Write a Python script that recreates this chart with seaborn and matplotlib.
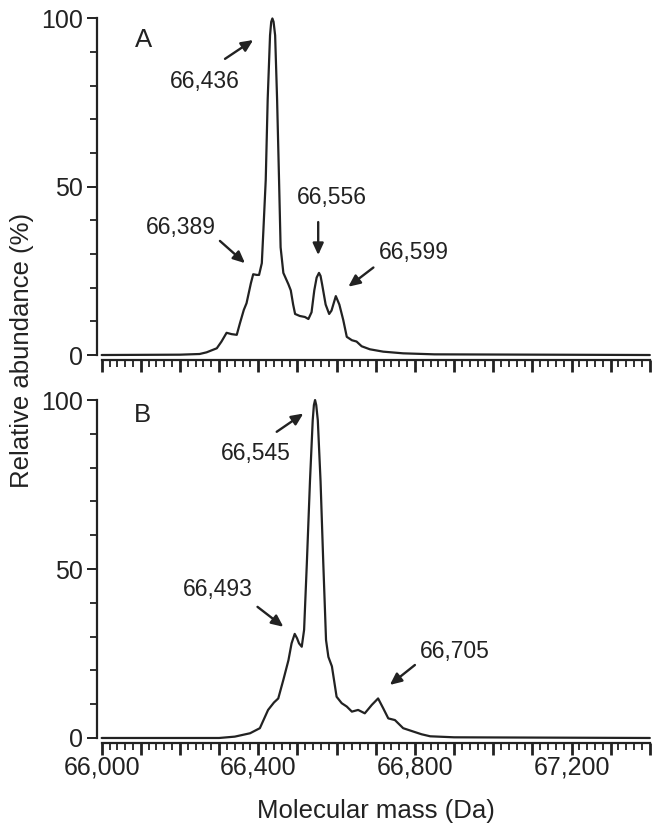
import matplotlib
matplotlib.use("Agg")
import matplotlib.pyplot as plt
import seaborn as sns
from matplotlib.ticker import MultipleLocator, FixedLocator, FuncFormatter

# spectrum A (deconvoluted mass, relative abundance %)
mass_a = [66000, 66200, 66250, 66268, 66294, 66306, 66319, 66332, 66345, 66353,
          66363, 66370, 66381, 66387, 66396, 66402, 66409, 66413, 66419, 66424,
          66430, 66433, 66436, 66439, 66443, 66448, 66453, 66457, 66464, 66477,
          66483, 66489, 66494, 66506, 66519, 66528, 66536, 66543, 66549, 66555,
          66559, 66563, 66572, 66581, 66587, 66598, 66607, 66617, 66626, 66639,
          66651, 66664, 66685, 66719, 66770, 66850, 67400]
abund_a = [0, 0.1, 0.3, 0.8, 2.0, 4.0, 6.6, 6.2, 6.0, 9.4,
           13.4, 15.4, 21.3, 24.0, 23.8, 23.8, 27.3, 37, 52, 76,
           95, 99, 100, 99, 95, 76, 52, 32, 24.4, 21,
           19.2, 15, 12.2, 11.6, 11.3, 10.7, 12.7, 19.2, 23, 24.4,
           23.5, 21, 15, 12.2, 13.2, 17.5, 15, 10.4, 5.4, 4.4,
           4.0, 2.6, 1.7, 1.0, 0.5, 0.2, 0]

# spectrum B
mass_b = [66000, 66300, 66340, 66379, 66404, 66425, 66440, 66451, 66464, 66477,
          66485, 66493, 66499, 66504, 66511, 66517, 66524, 66532, 66539, 66542,
          66545, 66548, 66552, 66559, 66566, 66573, 66579, 66588, 66600, 66613,
          66626, 66639, 66655, 66672, 66690, 66706, 66719, 66732, 66749, 66770,
          66796, 66817, 66839, 66900, 67400]
abund_b = [0, 0.0, 0.4, 1.4, 2.9, 8.3, 10.5, 11.7, 17.2, 23,
           28, 30.8, 29.5, 28, 27, 32, 51.7, 76, 94, 98.5,
           100, 98.5, 94, 76, 51.7, 29, 24, 21.2, 12.2, 10.3,
           9.3, 7.8, 8.3, 7.3, 9.8, 11.7, 8.8, 5.8, 5.3, 2.9,
           1.9, 1.1, 0.5, 0.2, 0]

# peak labels: text, text position, arrow tail, arrow head (data coords)
labels_a = ["66,436", "66,389", "66,556", "66,599"]
text_pos_a = [(66264, 81.4), (66201, 38.0), (66588, 46.7), (66798, 30.6)]
tail_a = [(66315, 88.0), (66302, 33.9), (66553, 39.5), (66694, 26.0)]
head_a = [(66387, 93.6), (66366, 27.3), (66553, 29.7), (66630, 20.3)]

labels_b = ["66,545", "66,493", "66,705"]
text_pos_b = [(66393, 84.2), (66297, 43.8), (66902, 25.5)]
tail_b = [(66447, 90.6), (66398, 38.8), (66800, 21.6)]
head_b = [(66515, 96.0), (66464, 32.9), (66736, 15.7)]

ink = "#222222"

sns.set_style("ticks")
plt.rcParams['font.family'] = ['Liberation Sans', 'DejaVu Sans']

fig = plt.figure(figsize=(6.62, 8.32), dpi=100)
ax_a = fig.add_axes([0.1536, 0.5733, 0.8280, 0.4045])
ax_b = fig.add_axes([0.1536, 0.1130, 0.8280, 0.4062])


def style_axis(ax, show_labels):
    ax.set_xlim(66000, 67400)
    ax.set_ylim(0, 100)
    ax.spines[['top', 'right']].set_visible(False)
    for s in ['left', 'bottom']:
        ax.spines[s].set_position(('outward', 3.4))
        ax.spines[s].set_linewidth(1.6)
        ax.spines[s].set_color(ink)
    ax.xaxis.set_major_locator(MultipleLocator(100))
    ax.xaxis.set_minor_locator(MultipleLocator(20))
    ax.yaxis.set_major_locator(FixedLocator([0, 50, 100]))
    ax.yaxis.set_minor_locator(MultipleLocator(10))
    ax.xaxis.set_major_formatter(FuncFormatter(
        lambda v, p: f"{v:,.0f}" if show_labels and round(v) % 400 == 0 else ""))
    ax.tick_params(axis='x', which='major', length=6.5, width=1.6, color=ink,
                   pad=3, labelsize=18, labelcolor=ink)
    ax.tick_params(axis='x', which='minor', length=5, width=1.3, color=ink)
    ax.tick_params(axis='y', which='major', length=7, width=1.4, color=ink,
                   pad=3, labelsize=18, labelcolor=ink)
    ax.tick_params(axis='y', which='minor', length=5, width=1.3, color=ink)
    # longer ticks every 200 Da
    for t in ax.xaxis.get_major_ticks():
        if round(t.get_loc()) % 200 == 0:
            t.tick1line.set_markersize(8.5)
            t.tick1line.set_markeredgewidth(2.0)
    ax.set_xlabel("")
    ax.set_ylabel("")


def add_labels(ax, texts, pos, tails, heads):
    for txt, p, t, h in zip(texts, pos, tails, heads):
        ax.text(p[0], p[1], txt, fontsize=16.5, color=ink, ha='center', va='center')
        ax.annotate("", xy=h, xytext=t,
                    arrowprops=dict(arrowstyle='-|>,head_length=0.7,head_width=0.32',
                                    color=ink, lw=1.7, shrinkA=0, shrinkB=0))


sns.lineplot(x=mass_a, y=abund_a, ax=ax_a, color=ink, lw=1.6, estimator=None, sort=False)
sns.lineplot(x=mass_b, y=abund_b, ax=ax_b, color=ink, lw=1.6, estimator=None, sort=False)
for ax in (ax_a, ax_b):
    for l in ax.lines:
        l.set_clip_on(False)

style_axis(ax_a, False)
style_axis(ax_b, True)

add_labels(ax_a, labels_a, text_pos_a, tail_a, head_a)
add_labels(ax_b, labels_b, text_pos_b, tail_b, head_b)

ax_a.text(66106, 93.6, "A", fontsize=18.5, color=ink, ha='center', va='center')
ax_b.text(66103, 95.6, "B", fontsize=18.5, color=ink, ha='center', va='center')

ax_b.set_xlabel("Molecular mass (Da)", fontsize=18.5, color=ink, labelpad=14)
fig.text(0.033, 0.579, "Relative abundance (%)", rotation=90, fontsize=18.5,
         color=ink, ha='center', va='center')

fig.savefig("out.png", dpi=100, facecolor="white")
